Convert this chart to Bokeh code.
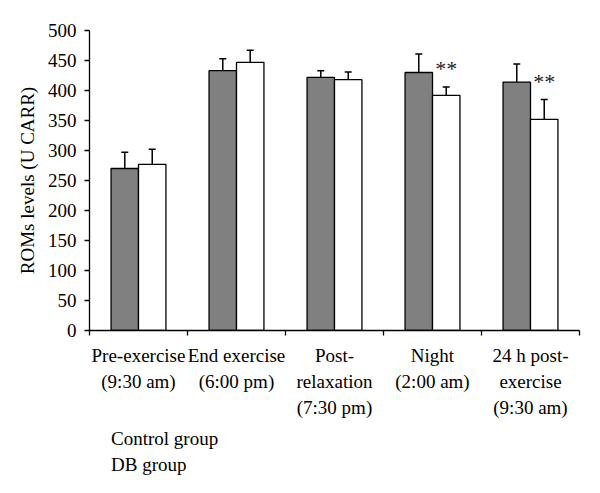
import numpy as np
from bokeh.plotting import figure
from bokeh.layouts import column
from bokeh.models import (ColumnDataSource, Range1d, LinearAxis, FixedTicker,
                          Whisker, TeeHead, Legend, LegendItem)
from bokeh.embed import file_html
from bokeh.resources import INLINE
from bokeh.core.properties import value

# ---- data ----
categories = ["Pre-exercise\n(9:30 am)", "End exercise\n(6:00 pm)",
              "Post-\nrelaxation\n(7:30 pm)", "Night\n(2:00 am)",
              "24 h post-\nexercise\n(9:30 am)"]
control_mean = [270, 433, 422, 430, 414]
control_err = [27, 20, 11, 31, 30]
db_mean = [277, 447, 418, 392, 352]
db_err = [25, 20, 13, 14, 33]
significant = [False, False, False, True, True]
y_ticks = [0, 50, 100, 150, 200, 250, 300, 350, 400, 450, 500]
series_names = ["Control group", "DB group"]
series_colors = ["#808080", "white"]

FONT = "Liberation Serif"
FS = "19px"
n = len(categories)
centers = np.arange(n) + 0.5
bw = 0.28

c_src = ColumnDataSource(dict(
    x=centers - bw / 2, top=control_mean,
    upper=np.array(control_mean) + np.array(control_err),
    lower=np.array(control_mean) - np.array(control_err)))
d_src = ColumnDataSource(dict(
    x=centers + bw / 2, top=db_mean,
    upper=np.array(db_mean) + np.array(db_err),
    lower=np.array(db_mean) - np.array(db_err)))

sig_x = [centers[i] + bw / 2 for i in range(n) if significant[i]]
sig_y = [db_mean[i] + db_err[i] + 30 for i in range(n) if significant[i]]
s_src = ColumnDataSource(dict(x=sig_x, y=sig_y, t=["**"] * len(sig_x)))

p = figure(width=592, height=420, output_backend="svg",
           toolbar_location=None,
           x_range=Range1d(0, n), y_range=Range1d(0, 500),
           x_axis_type=None, min_border_left=89, min_border_right=13,
           min_border_top=30, min_border_bottom=90)
p.outline_line_color = None
p.xgrid.visible = False
p.ygrid.visible = False
p.background_fill_color = "white"
p.border_fill_color = "white"

rc = p.vbar(x="x", top="top", width=bw, source=c_src, fill_color=series_colors[0],
            line_color="black", line_width=1.3)
rd = p.vbar(x="x", top="top", width=bw, source=d_src, fill_color=series_colors[1],
            line_color="black", line_width=1.3)

for src in (c_src, d_src):
    w = Whisker(base="x", upper="upper", lower="lower", source=src,
                line_color="black", line_width=1.5,
                upper_head=TeeHead(size=7, line_width=1.5, line_color="black"),
                lower_head=TeeHead(size=7, line_width=1.5, line_color="black"))
    p.add_layout(w)

p.text(x="x", y="y", text="t", source=s_src, text_font=value(FONT),
       text_font_size="22px", text_align="center", text_baseline="middle",
       text_color="#222222")

# y axis
ya = p.yaxis[0]
ya.ticker = FixedTicker(ticks=y_ticks)
ya.axis_label = "ROMs levels (U CARR)"
ya.axis_label_text_font = FONT
ya.axis_label_text_font_size = FS
ya.axis_label_text_font_style = "normal"
ya.axis_label_text_color = "black"
ya.major_label_text_font = FONT
ya.major_label_text_font_size = FS
ya.major_label_text_color = "black"
ya.axis_line_color = "black"
ya.axis_line_width = 1.3
ya.major_tick_line_color = "black"
ya.major_tick_line_width = 1.3
ya.major_tick_out = 5
ya.major_tick_in = 0
ya.minor_tick_line_color = None
ya.major_label_standoff = 8
ya.axis_label_standoff = 7

# x axis: one axis per label line, stacked below the frame
label_lines = [c.split("\n") for c in categories]
n_lines = max(len(l) for l in label_lines)
for k in range(n_lines):
    first = (k == 0)
    ticker = FixedTicker(ticks=list(centers),
                         minor_ticks=list(range(n + 1)) if first else [])
    xa = LinearAxis(ticker=ticker)
    xa.major_label_overrides = {
        float(c): (l[k] if k < len(l) else " ")
        for c, l in zip(centers, label_lines)}
    xa.major_label_text_font = FONT
    xa.major_label_text_font_size = FS
    xa.major_label_text_color = "black"
    xa.major_tick_line_color = None
    xa.major_tick_in = 0
    xa.minor_tick_in = 0
    if first:
        xa.axis_line_color = "black"
        xa.axis_line_width = 1.3
        xa.major_tick_out = 6
        xa.minor_tick_line_color = "black"
        xa.minor_tick_line_width = 1.3
        xa.minor_tick_out = 5
        xa.major_label_standoff = 8
    else:
        xa.axis_line_color = None
        xa.major_tick_out = 0
        xa.minor_tick_line_color = None
        xa.minor_tick_out = 0
        xa.major_label_standoff = 2
    p.add_layout(xa, "below")

# legend in its own strip below the chart
LH = 66
lg = figure(width=592, height=LH, output_backend="svg", toolbar_location=None,
            x_range=Range1d(0, 1), y_range=Range1d(0, 1),
            x_axis_type=None, y_axis_type=None,
            min_border_left=89, min_border_right=13,
            min_border_top=0, min_border_bottom=0)
lg.outline_line_color = None
lg.xgrid.visible = False
lg.ygrid.visible = False
lg.border_fill_color = "white"
lr = [lg.vbar(x="x", top="top", width=0.1,
              source=ColumnDataSource(dict(x=[], top=[])),
              fill_color=col, line_color="black", line_width=1.3)
      for col in series_colors]
legend = Legend(items=[LegendItem(label=nm, renderers=[r])
                       for nm, r in zip(series_names, lr)],
                location=(2, 10), orientation="vertical")
legend.label_text_font = FONT
legend.label_text_font_size = FS
legend.label_text_color = "black"
legend.glyph_width = 9
legend.glyph_height = 9
legend.label_standoff = 11
legend.label_height = 20
legend.spacing = 4
legend.padding = 2
legend.margin = 0
legend.border_line_color = None
legend.background_fill_alpha = 0
lg.add_layout(legend, "center")

open("out.html", "w").write(file_html(column(p, lg, spacing=0), INLINE))
